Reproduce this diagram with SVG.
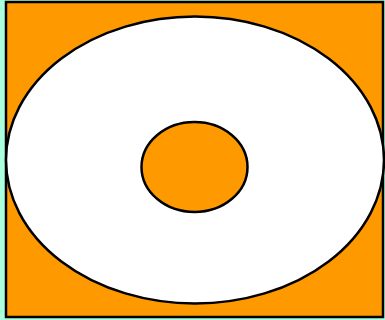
<svg xmlns="http://www.w3.org/2000/svg" width="385" height="320" viewBox="0 0 385 320">
<style>
.s{stroke:#000;stroke-width:2.5}
</style>
<rect x="0" y="0" width="385" height="320" fill="#aaffdd"/>
<g id="frame"><rect class="s" x="6" y="2" width="377" height="315" fill="#ff9900"/></g>
<g id="outer"><ellipse class="s" cx="195" cy="160" rx="189" ry="143.5" fill="#fff"/></g>
<g id="inner"><ellipse class="s" cx="194.5" cy="167" rx="53" ry="45" fill="#ff9900"/></g>
</svg>
